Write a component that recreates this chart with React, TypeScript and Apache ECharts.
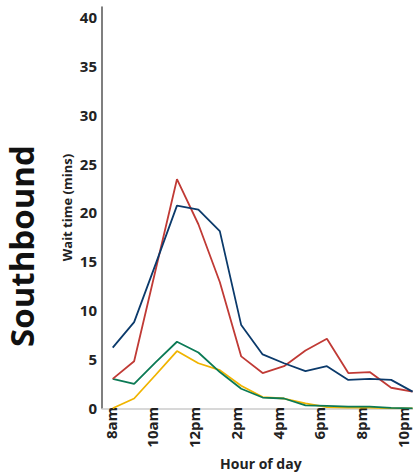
import React, { useEffect, useRef } from "react";
import * as echarts from "echarts";

const hours = [8, 9, 10, 11, 12, 13, 14, 15, 16, 17, 18, 19, 20, 21, 22];
const hourLabels = ["8am", "9am", "10am", "11am", "12pm", "1pm", "2pm", "3pm", "4pm", "5pm", "6pm", "7pm", "8pm", "9pm", "10pm"];
const blueValues = [6.2, 8.8, 14.7, 20.7, 20.3, 18.1, 8.5, 5.5, 4.6, 3.8, 4.3, 2.9, 3.0, 2.9, 1.7];
const redValues = [3.0, 4.8, 14.1, 23.4, 18.8, 12.9, 5.3, 3.6, 4.3, 5.9, 7.1, 3.6, 3.7, 2.1, 1.7];
const greenValues = [3.0, 2.5, 4.7, 6.8, 5.7, 3.7, 2.0, 1.1, 1.0, 0.3, 0.25, 0.18, 0.17, 0.05, 0.0];
const yellowValues = [0.0, 1.0, 3.4, 5.85, 4.6, 3.9, 2.3, 1.15, 1.0, 0.5, 0.13, 0.07, 0.07, 0.0, 0.0];
const yTicks = [0, 5, 10, 15, 20, 25, 30, 35, 40];

const FONT = "'Open Sans', 'Noto Sans', sans-serif";

export default function App() {
  const ref = useRef<HTMLDivElement>(null);
  useEffect(() => {
    if (!ref.current) return;
    const chart = echarts.init(ref.current, null, { renderer: "svg" });
    const mk = (name: string, vals: number[], color: string) => ({
      name,
      type: "line",
      xAxisIndex: 0,
      yAxisIndex: 0,
      data: hours.map((h, i) => [h, vals[i]]),
      symbol: "none",
      lineStyle: { color, width: 1.8 },
      itemStyle: { color },
    });
    chart.setOption({
      animation: false,
      backgroundColor: "#ffffff",
      textStyle: { fontFamily: FONT },
      grid: [
        { left: 102, right: 0, top: 6.9, bottom: 66.7 },
        { left: 110.7, right: 10, top: 6.9, bottom: 66.7 },
      ],
      xAxis: [
        {
          type: "value",
          gridIndex: 0,
          min: 7.5,
          max: 22.02,
          axisLine: { show: true, lineStyle: { color: "#cccccc", width: 1.5 } },
          axisTick: { show: false },
          axisLabel: { show: false },
          splitLine: { show: false },
        },
        {
          type: "category",
          gridIndex: 1,
          data: hourLabels,
          boundaryGap: false,
          axisLine: { show: false },
          axisTick: { show: false },
          axisLabel: {
            interval: 1,
            rotate: 90,
            margin: 10,
            fontSize: 15,
            fontWeight: "bold",
            color: "#222222",
            fontFamily: FONT,
          },
          name: "Hour of day",
          nameLocation: "middle",
          nameGap: 51,
          nameTextStyle: {
            fontSize: 14,
            fontWeight: "bold",
            color: "#222222",
            fontFamily: FONT,
            padding: [0, 0, 0, 8],
          },
        },
      ],
      yAxis: [
        {
          type: "value",
          gridIndex: 0,
          min: 0,
          max: 41,
          interval: 5,
          axisLine: { show: true, lineStyle: { color: "#555555", width: 1.5 } },
          axisTick: { show: false },
          splitLine: { show: false },
          axisLabel: {
            margin: 5,
            fontSize: 15,
            fontWeight: "bold",
            color: "#222222",
            fontFamily: FONT,
            formatter: (v: number) => (yTicks.includes(v) ? String(v) : ""),
          },
          name: "Wait time (mins)",
          nameLocation: "middle",
          nameRotate: 90,
          nameGap: 29,
          nameMoveOverlap: false,
          nameTextStyle: {
            fontSize: 13,
            fontWeight: "bold",
            color: "#222222",
            fontFamily: FONT,
          },
        },
        {
          type: "value",
          gridIndex: 1,
          min: 0,
          max: 41,
          show: false,
        },
      ],
      graphic: [
        {
          type: "text",
          x: 21,
          y: 246,
          rotation: Math.PI / 2,
          style: {
            text: "Southbound",
            fontSize: 33,
            fontWeight: "bold",
            fontFamily: FONT,
            fill: "#111111",
            textAlign: "center",
            textVerticalAlign: "middle",
          },
        },
      ],
      series: [
        mk("Yellow", yellowValues, "#f0b400"),
        mk("Green", greenValues, "#0b7a55"),
        mk("Red", redValues, "#c03a35"),
        mk("Blue", blueValues, "#0b3a6b"),
      ],
    });
    return () => chart.dispose();
  }, []);
  return (
    <div
      ref={ref}
      style={{ position: "absolute", left: 0, top: 0, width: 413, height: 475 }}
    />
  );
}
